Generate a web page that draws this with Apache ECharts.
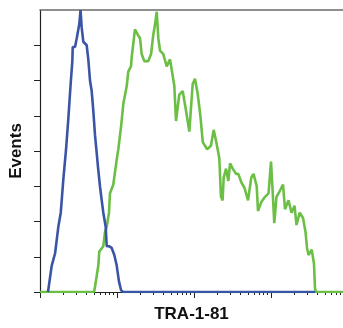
<!DOCTYPE html>
<html>
<head>
<meta charset="utf-8">
<style>
html,body{margin:0;padding:0;background:#fff;}
#c{width:343px;height:328px;}
</style>
<script src="https://cdn.jsdelivr.net/npm/echarts@6/dist/echarts.min.js"></script>
</head>
<body>
<div id="c"></div>
<script>
// TRA-1-81 intensity (log scale) vs events
const xMajorTicks = [1, 10, 100, 1000];
const xMinorTicks = [2,3,4,5,6,7,8,9,20,30,40,50,60,70,80,90,200,300,400,500,600,700,800,900,2000,3000,4000,5000,6000,7000,8000];
const yTicks = [0, 20, 40, 60, 80, 100, 120, 140];

const isotypeControl = [[1.27,0],[1.31,1],[1.42,15],[1.57,22],[1.73,37],[1.86,45],[2.01,64],[2.18,81],[2.33,98],[2.50,118],[2.63,131],[2.66,139],[2.77,138],[2.85,139],[3.00,144],[3.24,152],[3.36,160],[3.48,150],[3.65,142],[3.84,143],[4.04,140],[4.24,132],[4.46,120],[4.69,114],[4.92,103],[5.18,89],[5.45,79],[5.66,71],[6.01,60],[6.33,52],[6.64,45],[7.13,37],[7.35,26],[7.87,26],[8.53,25],[9.23,21],[9.91,15],[10.6,6],[11.3,1],[12.0,0],[3726,0]];

const tra181 = [[1,0],[5.03,0],[5.18,3],[5.72,15],[5.89,23],[6.64,26],[6.98,34],[7.35,37],[7.87,45],[8.11,56],[8.95,61],[9.91,75],[10.4,81],[11.3,94],[12.1,107],[13.4,117],[14.0,125],[15.2,128],[15.5,133],[17.1,149],[18.6,146],[19.9,144],[20.9,135],[22.6,131],[25.5,131],[27.7,135],[29.6,146],[31.2,152],[32.8,159],[34.4,144],[36.2,137],[39.9,135],[44.2,128],[48.8,132],[50.3,132],[55.5,117],[58.4,97],[64.4,112],[71.3,114],[78.7,103],[86.9,91],[96.2,118],[103,121],[112,112],[121,100],[130,85],[148,81],[166,83],[180,92],[193,86],[213,76],[224,54],[235,52],[243,65],[261,70],[279,63],[294,73],[318,70],[351,67],[376,67],[414,62],[453,59],[503,52],[555,65],[593,67],[652,60],[678,46],[748,51],[836,54],[929,56],[1000,74],[1045,59],[1103,39],[1178,54],[1289,57],[1432,61],[1520,47],[1688,52],[1846,45],[2020,49],[2144,38],[2360,45],[2605,42],[2806,34],[2936,25],[3070,21],[3380,24],[3616,16],[3726,2],[3840,0],[8610,0]];

const chart = echarts.init(document.getElementById('c'), null, {renderer: 'canvas'});
const FONT = '"Liberation Sans Narrow", "Liberation Sans", Arial, sans-serif';
const xBase = {type: 'log', logBase: 10, min: 1, max: 8610, splitLine: {show: false}, axisLabel: {show: false}};
chart.setOption({
  animation: false,
  grid: {left: 40, right: 0, top: 10, bottom: 31},
  xAxis: [
    Object.assign({}, xBase, {
      position: 'bottom',
      name: 'TRA-1-81', nameLocation: 'middle', nameGap: 14,
      nameTextStyle: {fontFamily: FONT, fontWeight: 'bold', fontSize: 17, color: '#111'},
      axisLine: {show: true, lineStyle: {color: '#222', width: 1.2}},
      axisTick: {show: true, length: 6, customValues: xMajorTicks, lineStyle: {color: '#222', width: 1}}
    }),
    Object.assign({}, xBase, {
      position: 'bottom',
      axisLine: {show: false},
      axisTick: {show: true, length: 3, customValues: xMinorTicks, lineStyle: {color: '#222', width: 1}}
    }),
    Object.assign({}, xBase, {
      position: 'top',
      axisLine: {show: true, lineStyle: {color: '#6b6b6b', width: 1.5}},
      axisTick: {show: false}
    })
  ],
  yAxis: {
    type: 'value', min: 0, max: 160, interval: 20,
    name: 'Events', nameLocation: 'middle', nameGap: 15, nameRotate: 90,
    nameTextStyle: {fontFamily: FONT, fontWeight: 'bold', fontSize: 17, color: '#111'},
    axisLine: {show: true, lineStyle: {color: '#222', width: 1.2}},
    axisTick: {show: true, length: 6, customValues: yTicks, lineStyle: {color: '#222', width: 1}},
    axisLabel: {show: false},
    splitLine: {show: false}
  },
  series: [
    {type: 'line', name: 'TRA-1-81', data: tra181, showSymbol: false, symbol: 'none', z: 2,
     lineStyle: {color: '#6cbf45', width: 2.6}},
    {type: 'line', name: 'Isotype', data: isotypeControl, showSymbol: false, symbol: 'none', z: 3,
     lineStyle: {color: '#3a55a6', width: 2.6}}
  ]
});
</script>
</body>
</html>
